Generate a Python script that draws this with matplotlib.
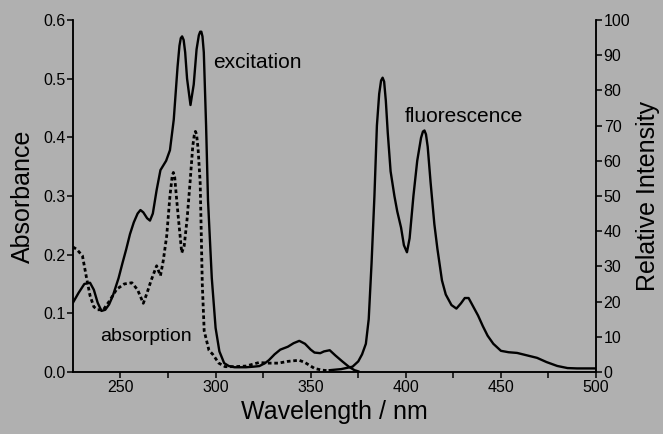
import matplotlib.pyplot as plt
from matplotlib.ticker import FixedLocator

# excitation spectrum (solid line), left axis units
exc_nm = [225, 228, 231, 234, 236, 238, 240, 242, 244, 246, 249, 251, 253, 255,
          257, 259, 260.5, 262, 264, 265.5, 267, 269, 271, 274, 276, 278, 280,
          281, 281.7, 282.4, 283.2, 284, 285, 286.8, 288.5, 290, 291.2, 291.9,
          292.5, 293.1, 293.8, 295, 296, 298, 300, 302, 304.5, 307, 310, 316,
          320, 323, 326, 328, 331, 334, 338, 341, 344, 347, 350, 352, 355, 357,
          360, 363, 366.6, 370, 373, 375]
exc_val = [0.118, 0.135, 0.150, 0.152, 0.140, 0.118, 0.104, 0.106, 0.115, 0.130,
           0.160, 0.185, 0.209, 0.235, 0.255, 0.270, 0.276, 0.272, 0.262, 0.258,
           0.270, 0.310, 0.344, 0.360, 0.378, 0.430, 0.520, 0.556, 0.569, 0.572,
           0.566, 0.545, 0.500, 0.455, 0.490, 0.550, 0.574, 0.580, 0.580, 0.572,
           0.545, 0.420, 0.293, 0.160, 0.075, 0.035, 0.015, 0.010, 0.008, 0.008,
           0.009, 0.010, 0.015, 0.020, 0.030, 0.038, 0.043, 0.049, 0.053, 0.048,
           0.038, 0.033, 0.032, 0.035, 0.037, 0.028, 0.018, 0.009, 0.003, 0.001]

# absorption spectrum (dotted line), absorbance
abs_nm = [225, 227, 230, 232, 234, 236, 238, 241, 244, 248, 252, 256, 259, 262,
          264, 266, 269, 271, 272.5, 274.3, 276, 277.2, 277.8, 278.5, 279.5,
          280.5, 282.2, 283.5, 285, 286.5, 288, 288.8, 289.4, 290, 290.8, 291.9,
          292.5, 293, 294, 296.5, 298.5, 301.7, 305, 310, 316, 322.8, 328, 333,
          338, 343.9, 347, 349, 352, 356, 360]
abs_val = [0.213, 0.209, 0.198, 0.163, 0.130, 0.111, 0.106, 0.106, 0.120, 0.141,
           0.150, 0.152, 0.140, 0.117, 0.135, 0.155, 0.181, 0.164, 0.190, 0.232,
           0.300, 0.334, 0.340, 0.332, 0.295, 0.260, 0.203, 0.215, 0.260, 0.320,
           0.385, 0.404, 0.410, 0.405, 0.380, 0.322, 0.230, 0.150, 0.070, 0.037,
           0.030, 0.015, 0.009, 0.009, 0.010, 0.016, 0.015, 0.015, 0.018, 0.020,
           0.016, 0.012, 0.006, 0.003, 0.002]

# fluorescence spectrum, relative intensity (right axis)
flu_nm = [360, 366, 372, 375, 377, 379, 380.5, 382, 383.5, 384.8, 386, 387,
          387.8, 388.6, 389.5, 390.5, 392, 394, 395.5, 397.5, 399, 400.6, 402,
          404, 406, 408, 409, 409.8, 410.6, 411.5, 413, 415, 416.6, 419, 421,
          424, 426.6, 429, 431, 433, 435, 438, 440.5, 443, 446, 450, 454, 458.5,
          463, 469, 474, 479.6, 485, 490, 500]
flu_val = [0.5, 0.8, 1.5, 3, 5, 8, 15, 31, 50, 70, 79, 82.8, 83.6, 82.5, 77,
           68, 57, 50, 45.6, 41, 36, 34, 38, 50, 60, 66.5, 68.3, 68.6, 67.5, 64,
           54, 42, 35, 26, 22, 19, 18, 19.5, 21, 21, 19, 16, 13, 10.3, 8, 6, 5.6,
           5.4, 4.8, 4, 2.8, 1.7, 1.1, 1, 1]

left_ticks = [0.0, 0.1, 0.2, 0.3, 0.4, 0.5, 0.6]
right_ticks = [0, 10, 20, 30, 40, 50, 60, 70, 80, 90, 100]
x_ticks = [250, 300, 350, 400, 450, 500]
x_minor = [275, 325, 375, 425, 475]

bg = '#b0b0b0'
plt.rcParams['font.family'] = ['Liberation Sans', 'DejaVu Sans']

fig = plt.figure(figsize=(6.63, 4.34), dpi=100, facecolor=bg)
ax = fig.add_axes([0.110, 0.143, 0.789, 0.811])
ax.set_facecolor(bg)
ax2 = ax.twinx()

ax.plot(exc_nm, exc_val, color='black', lw=1.7)
ax.plot(abs_nm, abs_val, color='black', lw=2.0, linestyle=(0, (1.3, 1.0)))
ax2.plot(flu_nm, flu_val, color='black', lw=1.7)

ax.set_xlim(225, 500)
ax.set_ylim(0, 0.6)
ax2.set_ylim(0, 100)

ax.set_xticks(x_ticks)
ax.xaxis.set_minor_locator(FixedLocator(x_minor))
ax.set_yticks(left_ticks)
ax.set_yticklabels(['%.1f' % v for v in left_ticks])
ax2.set_yticks(right_ticks)

for a in (ax, ax2):
    a.spines['top'].set_visible(False)
    for s in a.spines.values():
        s.set_linewidth(1.1)
    a.tick_params(which='both', direction='out', length=4, width=1.1,
                  labelsize=11.5, pad=1.5)

ax.set_xlabel('Wavelength / nm', fontsize=18, labelpad=4)
ax.set_ylabel('Absorbance', fontsize=18, labelpad=6)
ax2.set_ylabel('Relative Intensity', fontsize=18, labelpad=4)

ax.text(298.7, 0.528, 'excitation', fontsize=15, va='center')
ax.text(399.7, 0.435, 'fluorescence', fontsize=15, va='center')
ax.text(239.2, 0.060, 'absorption', fontsize=14, va='center')

fig.savefig('out.png', dpi=100, facecolor=bg)
